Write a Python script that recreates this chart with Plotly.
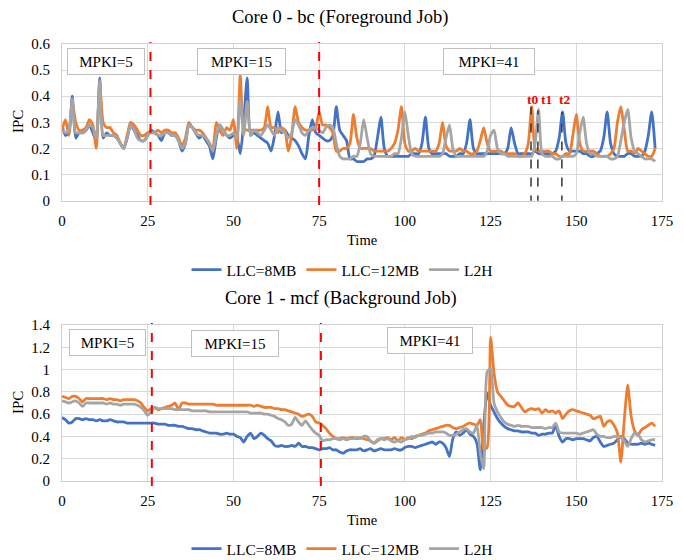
import plotly.graph_objects as go

# ---------------- data ----------------
time = list(range(0, 174))

core0_llc8 = [0.29,0.25,0.26,0.40,0.24,0.26,0.26,0.27,0.29,0.26,0.23,0.47,0.24,0.26,0.25,0.25,0.24,0.22,0.20,0.24,
              0.29,0.27,0.25,0.23,0.23,0.25,0.27,0.26,0.25,0.23,0.26,0.26,0.25,0.25,0.23,0.19,0.22,0.29,0.28,0.26,
              0.24,0.25,0.23,0.21,0.16,0.24,0.29,0.27,0.25,0.24,0.25,0.24,0.18,0.30,0.47,0.25,0.26,0.25,0.24,0.23,
              0.22,0.19,0.25,0.34,0.26,0.27,0.25,0.24,0.23,0.21,0.18,0.16,0.25,0.31,0.26,0.25,0.24,0.23,0.23,0.25,
              0.36,0.27,0.25,0.23,0.16,0.16,0.15,0.15,0.15,0.16,0.16,0.17,0.24,0.32,0.20,0.17,0.17,0.17,0.17,0.17,
              0.17,0.17,0.18,0.18,0.18,0.22,0.32,0.20,0.18,0.18,0.18,0.18,0.18,0.17,0.17,0.17,0.18,0.18,0.22,0.31,
              0.20,0.18,0.18,0.18,0.18,0.18,0.18,0.18,0.18,0.18,0.20,0.28,0.22,0.18,0.18,0.18,0.18,0.18,0.19,0.18,
              0.18,0.18,0.18,0.18,0.19,0.24,0.34,0.22,0.19,0.19,0.19,0.19,0.18,0.18,0.17,0.17,0.18,0.19,0.24,0.34,
              0.22,0.18,0.17,0.17,0.17,0.18,0.18,0.17,0.17,0.17,0.19,0.25,0.34,0.20]
core0_llc12 = [0.27,0.31,0.25,0.38,0.30,0.27,0.27,0.28,0.31,0.29,0.20,0.45,0.30,0.28,0.28,0.26,0.25,0.22,0.20,0.25,
               0.30,0.29,0.27,0.25,0.25,0.26,0.26,0.26,0.27,0.26,0.27,0.27,0.26,0.26,0.24,0.21,0.24,0.30,0.28,0.27,
               0.27,0.26,0.24,0.22,0.20,0.30,0.27,0.25,0.28,0.27,0.31,0.20,0.48,0.28,0.27,0.27,0.27,0.27,0.27,0.28,
               0.36,0.28,0.28,0.26,0.28,0.27,0.19,0.25,0.36,0.30,0.28,0.27,0.27,0.27,0.28,0.34,0.29,0.29,0.28,0.26,
               0.19,0.19,0.20,0.20,0.22,0.33,0.24,0.20,0.20,0.20,0.20,0.19,0.19,0.19,0.19,0.19,0.20,0.22,0.27,0.36,
               0.22,0.19,0.19,0.20,0.19,0.19,0.19,0.19,0.19,0.19,0.22,0.30,0.21,0.19,0.19,0.19,0.20,0.19,0.19,0.18,
               0.18,0.19,0.23,0.28,0.22,0.19,0.19,0.19,0.19,0.18,0.18,0.18,0.18,0.17,0.17,0.18,0.22,0.36,0.20,0.19,
               0.19,0.19,0.19,0.18,0.18,0.17,0.17,0.18,0.18,0.25,0.33,0.22,0.19,0.19,0.19,0.19,0.18,0.17,0.17,0.17,
               0.18,0.20,0.30,0.36,0.27,0.19,0.19,0.18,0.20,0.19,0.18,0.17,0.17,0.20]
core0_l2h = [0.27,0.26,0.27,0.39,0.26,0.26,0.26,0.27,0.29,0.28,0.24,0.46,0.25,0.25,0.25,0.25,0.24,0.22,0.20,0.24,
             0.29,0.27,0.24,0.23,0.23,0.25,0.26,0.26,0.25,0.25,0.26,0.26,0.25,0.25,0.23,0.20,0.22,0.29,0.28,0.26,
             0.25,0.25,0.24,0.22,0.19,0.25,0.29,0.27,0.25,0.25,0.26,0.24,0.39,0.25,0.38,0.25,0.27,0.26,0.25,0.27,
             0.29,0.27,0.25,0.28,0.27,0.26,0.24,0.26,0.31,0.29,0.26,0.25,0.27,0.28,0.28,0.27,0.26,0.28,0.29,0.28,
             0.22,0.17,0.16,0.16,0.16,0.17,0.17,0.22,0.31,0.24,0.18,0.17,0.17,0.17,0.17,0.17,0.17,0.18,0.18,0.24,
             0.34,0.25,0.18,0.17,0.17,0.17,0.17,0.17,0.17,0.17,0.17,0.18,0.24,0.29,0.20,0.17,0.17,0.17,0.17,0.17,
             0.17,0.17,0.17,0.17,0.19,0.25,0.27,0.20,0.18,0.18,0.17,0.17,0.17,0.17,0.17,0.17,0.17,0.17,0.22,0.35,
             0.18,0.17,0.17,0.17,0.16,0.16,0.17,0.17,0.17,0.17,0.18,0.26,0.32,0.22,0.18,0.18,0.17,0.17,0.17,0.17,
             0.16,0.16,0.17,0.23,0.30,0.35,0.24,0.19,0.18,0.17,0.16,0.16,0.16,0.15]

core1_llc8 = [0.57,0.55,0.52,0.53,0.56,0.56,0.55,0.56,0.55,0.55,0.54,0.55,0.54,0.54,0.55,0.54,0.53,0.53,0.53,0.52,
              0.52,0.52,0.52,0.52,0.52,0.52,0.52,0.52,0.51,0.51,0.51,0.50,0.50,0.50,0.49,0.49,0.48,0.47,0.47,0.46,
              0.46,0.45,0.44,0.43,0.43,0.43,0.42,0.42,0.43,0.42,0.42,0.40,0.39,0.35,0.40,0.43,0.38,0.40,0.43,0.41,
              0.38,0.36,0.32,0.31,0.32,0.31,0.31,0.32,0.31,0.34,0.31,0.31,0.30,0.30,0.29,0.28,0.29,0.29,0.30,0.28,
              0.28,0.26,0.25,0.27,0.28,0.28,0.28,0.29,0.27,0.28,0.29,0.27,0.28,0.29,0.28,0.28,0.28,0.29,0.28,0.28,
              0.30,0.31,0.31,0.30,0.31,0.32,0.33,0.34,0.35,0.33,0.35,0.34,0.30,0.22,0.38,0.44,0.41,0.43,0.46,0.42,
              0.40,0.34,0.10,0.50,0.79,0.68,0.62,0.56,0.52,0.49,0.47,0.46,0.45,0.45,0.44,0.44,0.44,0.43,0.43,0.41,
              0.42,0.42,0.43,0.43,0.50,0.40,0.35,0.38,0.38,0.37,0.38,0.38,0.38,0.37,0.36,0.39,0.40,0.35,0.31,0.32,
              0.33,0.34,0.37,0.40,0.38,0.34,0.33,0.33,0.33,0.34,0.33,0.34,0.33,0.32]
core1_llc12 = [0.76,0.75,0.74,0.76,0.76,0.74,0.71,0.74,0.74,0.74,0.74,0.74,0.74,0.73,0.74,0.73,0.73,0.72,0.73,0.73,
               0.73,0.73,0.72,0.70,0.66,0.63,0.65,0.66,0.64,0.65,0.66,0.67,0.68,0.70,0.64,0.70,0.70,0.69,0.69,0.69,
               0.69,0.69,0.69,0.69,0.69,0.68,0.68,0.68,0.68,0.68,0.68,0.68,0.68,0.68,0.68,0.68,0.67,0.68,0.67,0.66,
               0.66,0.66,0.65,0.65,0.64,0.64,0.63,0.62,0.61,0.60,0.58,0.59,0.60,0.58,0.53,0.52,0.50,0.47,0.43,0.40,
               0.38,0.38,0.39,0.38,0.39,0.39,0.38,0.39,0.38,0.37,0.36,0.34,0.36,0.38,0.38,0.39,0.37,0.39,0.36,0.39,
               0.37,0.39,0.38,0.40,0.41,0.42,0.43,0.45,0.46,0.47,0.48,0.49,0.50,0.50,0.48,0.47,0.48,0.49,0.51,0.52,
               0.51,0.50,0.55,0.28,0.30,1.29,0.97,0.80,0.76,0.72,0.68,0.67,0.67,0.70,0.66,0.62,0.64,0.65,0.64,0.65,
               0.61,0.64,0.62,0.63,0.61,0.63,0.56,0.60,0.63,0.64,0.63,0.62,0.61,0.60,0.59,0.56,0.57,0.58,0.49,0.53,
               0.54,0.50,0.43,0.17,0.55,0.86,0.58,0.45,0.41,0.46,0.48,0.50,0.52,0.49]
core1_l2h = [0.72,0.71,0.70,0.71,0.72,0.70,0.67,0.70,0.70,0.70,0.70,0.70,0.70,0.69,0.70,0.69,0.69,0.68,0.69,0.69,
             0.69,0.69,0.68,0.66,0.63,0.59,0.62,0.66,0.65,0.65,0.65,0.65,0.65,0.64,0.64,0.64,0.64,0.64,0.63,0.63,
             0.63,0.63,0.63,0.62,0.62,0.62,0.62,0.62,0.62,0.62,0.62,0.62,0.62,0.62,0.62,0.61,0.61,0.61,0.61,0.60,
             0.60,0.59,0.58,0.56,0.55,0.53,0.50,0.51,0.57,0.53,0.50,0.54,0.50,0.46,0.43,0.41,0.36,0.37,0.37,0.38,
             0.38,0.37,0.38,0.37,0.38,0.38,0.39,0.38,0.40,0.40,0.36,0.34,0.37,0.38,0.37,0.38,0.36,0.35,0.36,0.35,
             0.37,0.38,0.40,0.39,0.41,0.41,0.42,0.43,0.43,0.44,0.44,0.44,0.43,0.41,0.41,0.42,0.44,0.46,0.47,0.44,
             0.43,0.50,0.25,0.11,0.98,1.01,0.70,0.62,0.57,0.53,0.51,0.50,0.49,0.50,0.49,0.49,0.49,0.48,0.48,0.48,
             0.48,0.47,0.48,0.48,0.52,0.44,0.43,0.43,0.43,0.43,0.43,0.42,0.43,0.44,0.45,0.46,0.42,0.40,0.40,0.39,
             0.39,0.40,0.40,0.39,0.36,0.31,0.38,0.43,0.42,0.37,0.35,0.36,0.37,0.37]

series_names = ["LLC=8MB", "LLC=12MB", "L2H"]
series_colors = ["#4472C4", "#ED7D31", "#A5A5A5"]

phase_bounds_top = [25.8, 75]
phase_bounds_bottom = [26.2, 75.5]
phase_labels = ["MPKI=5", "MPKI=15", "MPKI=41"]
marker_times = [136.8, 138.8, 145.8]
marker_labels = ["t0", "t1", "t2"]
marker_tops = [0.36, 0.345, 0.34]

# ---------------- layout helpers ----------------
W, H = 684, 560
FONT = "Liberation Serif, Times New Roman, serif"


def fx(px):
    return px / W


def fy(py):
    return 1 - py / H


fig = go.Figure()

top_sets = [core0_llc8, core0_llc12, core0_l2h]
bot_sets = [core1_llc8, core1_llc12, core1_l2h]
for name, col, vals in zip(series_names, series_colors, top_sets):
    fig.add_trace(go.Scatter(x=time, y=vals, name=name, mode="lines",
                             line=dict(color=col, width=2.8, shape="spline", smoothing=0.6),
                             xaxis="x", yaxis="y", legend="legend"))
for name, col, vals in zip(series_names, series_colors, bot_sets):
    fig.add_trace(go.Scatter(x=time, y=vals, name=name, mode="lines",
                             line=dict(color=col, width=2.8, shape="spline", smoothing=0.6),
                             xaxis="x2", yaxis="y2", legend="legend2"))

axis_common = dict(showgrid=True, gridcolor="#d9d9d9", gridwidth=1, zeroline=False,
                   showline=True, linecolor="#d0d0d0", linewidth=1, mirror=True,
                   ticks="outside", tickcolor="rgba(0,0,0,0)", automargin=False,
                   tickfont=dict(family=FONT, size=15, color="#000"))

fig.update_layout(
    width=W, height=H,
    margin=dict(l=0, r=0, t=0, b=0, autoexpand=False),
    paper_bgcolor="white", plot_bgcolor="white",
    font=dict(family=FONT, color="#000"),
    xaxis=dict(domain=[fx(62), fx(662)], range=[0, 175], tick0=0, dtick=25, ticklen=6,
               anchor="y", **axis_common),
    yaxis=dict(domain=[fy(200.7), fy(44)], range=[0, 0.6], tick0=0, dtick=0.1, ticklen=8,
               anchor="x", **axis_common),
    xaxis2=dict(domain=[fx(62), fx(662)], range=[0, 175], tick0=0, dtick=25, ticklen=6,
                anchor="y2", **axis_common),
    yaxis2=dict(domain=[fy(481), fy(325)], range=[0, 1.4], tick0=0, dtick=0.2, ticklen=8,
                anchor="x2", **axis_common),
    legend=dict(orientation="h", x=0.5, xanchor="center", y=fy(270), yanchor="middle",
                font=dict(family=FONT, size=15.5), itemwidth=30, tracegroupgap=0,
                bgcolor="rgba(0,0,0,0)"),
    legend2=dict(orientation="h", x=0.5, xanchor="center", y=fy(549), yanchor="middle",
                 font=dict(family=FONT, size=15.5), itemwidth=30, tracegroupgap=0,
                 bgcolor="rgba(0,0,0,0)"),
)

ann = []


def add_text(text, px, py, size, **kw):
    d = dict(text=text, x=fx(px), y=fy(py), xref="paper", yref="paper", showarrow=False,
             xanchor="center", yanchor="middle", font=dict(family=FONT, size=size,
                                                           color=kw.pop("color", "#000")))
    d.update(kw)
    ann.append(d)


# titles
add_text("Core 0 - bc (Foreground Job)", 340, 17, 18.5)
add_text("Core 1 - mcf (Background Job)", 341, 298, 18.5)
# axis titles
for yy in (122, 403):
    add_text("IPC", 18, yy, 15, textangle=-90)
for yy in (240, 520):
    add_text("Time", 362, yy, 14.5)

# phase boxes (centre x, centre y, width)
top_boxes = [(106, 61, 70), (241.5, 61, 81), (489, 61.5, 84)]
bot_boxes = [(107.5, 342, 69), (235, 343.5, 80), (430, 340.5, 78)]
for (cx, cy, w), lab in zip(top_boxes + bot_boxes, phase_labels + phase_labels):
    add_text(lab, cx, cy, 15, width=w, height=19, align="center", bgcolor="white",
             bordercolor="#bfbfbf", borderwidth=1, borderpad=3)

# t0 t1 t2 labels
for lab, px in zip(marker_labels, (532, 546.5, 564.5)):
    add_text("<b>%s</b>" % lab, px, 99, 13.5, color="#ff0000")
fig.update_layout(annotations=ann)

shapes = []
for b in phase_bounds_top:
    shapes.append(dict(type="line", xref="x", yref="paper", x0=b, x1=b, y0=fy(205), y1=fy(42),
                       line=dict(color="#ff0000", width=2, dash="dash")))
for b in phase_bounds_bottom:
    shapes.append(dict(type="line", xref="x2", yref="paper", x0=b, x1=b, y0=fy(486), y1=fy(323),
                       line=dict(color="#ff0000", width=2, dash="dash")))
for tx, top in zip(marker_times, marker_tops):
    shapes.append(dict(type="line", xref="x", yref="y", x0=tx, x1=tx, y0=-0.015, y1=top,
                       line=dict(color="#333333", width=1.5, dash="dash")))
fig.update_layout(shapes=shapes)

fig.write_html("out.html", config={"displayModeBar": False},
               post_script="document.body.style.margin='0';document.body.style.overflow='hidden';")
